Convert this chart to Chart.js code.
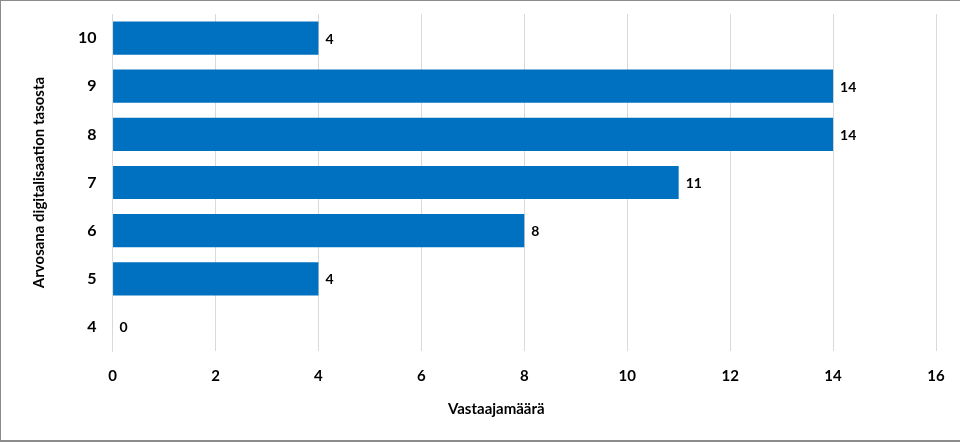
<!DOCTYPE html>
<html>
<head>
<meta charset="utf-8">
<script src="https://cdn.jsdelivr.net/npm/chart.js@4.4.0/dist/chart.umd.min.js"></script>
<style>
  html, body { margin: 0; padding: 0; background: #fff; }
  #wrap {
    width: 960px; height: 442px; box-sizing: border-box;
    border: 1px solid #8c8c8c; border-width: 1px 0 2px 1px; position: relative;
  }
  canvas { display: block; }
</style>
</head>
<body>
<div id="wrap"><canvas id="chart"></canvas></div>
<script>
// Grades (top to bottom) and respondent counts
const grades = ["10", "9", "8", "7", "6", "5", "4"];
const counts = [4, 14, 14, 11, 8, 4, 0];
const xTicks = [0, 2, 4, 6, 8, 10, 12, 14, 16];
const xTitle = "Vastaajamäärä";

const FONT = "Lato, 'Open Sans', sans-serif";

// Draw the value next to each bar end, and the x axis title
const valueLabels = {
  id: "valueLabels",
  afterDatasetsDraw(chart) {
    const ctx = chart.ctx;
    const meta = chart.getDatasetMeta(0);
    ctx.save();
    ctx.font = "bold 14px " + FONT;
    ctx.fillStyle = "#000";
    ctx.textBaseline = "middle";
    meta.data.forEach((bar, i) => {
      ctx.fillText(String(counts[i]), bar.x + 7, bar.y + 1);
    });

    // x title sits a bit left of the plot centre, like the original
    const area = chart.chartArea;
    ctx.font = "bold 15px " + FONT;
    ctx.textAlign = "center";
    ctx.fillText(xTitle, (area.left + area.right) / 2 - 28, chart.height - 31);
    ctx.restore();
  },
};

new Chart(document.getElementById("chart"), {
  type: "bar",
  data: {
    labels: grades,
    datasets: [
      {
        data: counts,
        backgroundColor: "#0070c0",
        categoryPercentage: 0.69,
        barPercentage: 1,
      },
    ],
  },
  options: {
    indexAxis: "y",
    responsive: true,
    maintainAspectRatio: false,
    animation: false,
    layout: { padding: { left: 29, right: 24, top: 13, bottom: 29 } },
    plugins: {
      legend: { display: false },
      tooltip: { enabled: false },
    },
    scales: {
      x: {
        min: 0,
        max: 16,
        afterBuildTicks: (axis) => {
          axis.ticks = xTicks.map((v) => ({ value: v }));
        },
        // fixed axis height, no extra label overhang padding
        afterFit: (axis) => {
          axis.height = 60;
          axis.paddingLeft = 0;
          axis.paddingRight = 0;
        },
        grid: { color: "#d9d9d9", drawTicks: false },
        border: { display: false },
        ticks: {
          padding: 16,
          color: "#000",
          font: { family: FONT, size: 15, weight: "bold" },
        },
      },
      y: {
        afterFit: (axis) => {
          axis.paddingTop = 0;
          axis.paddingBottom = 0;
        },
        grid: { display: false },
        border: { color: "#d9d9d9" },
        ticks: {
          padding: 8,
          color: "#000",
          font: { family: FONT, size: 16, weight: "bold" },
        },
        title: {
          display: true,
          text: "Arvosana digitalisaation tasosta",
          color: "#000",
          padding: { top: 0, bottom: 22 },
          font: { family: FONT, size: 15, weight: "bold" },
        },
      },
    },
  },
  plugins: [valueLabels],
});
</script>
</body>
</html>
